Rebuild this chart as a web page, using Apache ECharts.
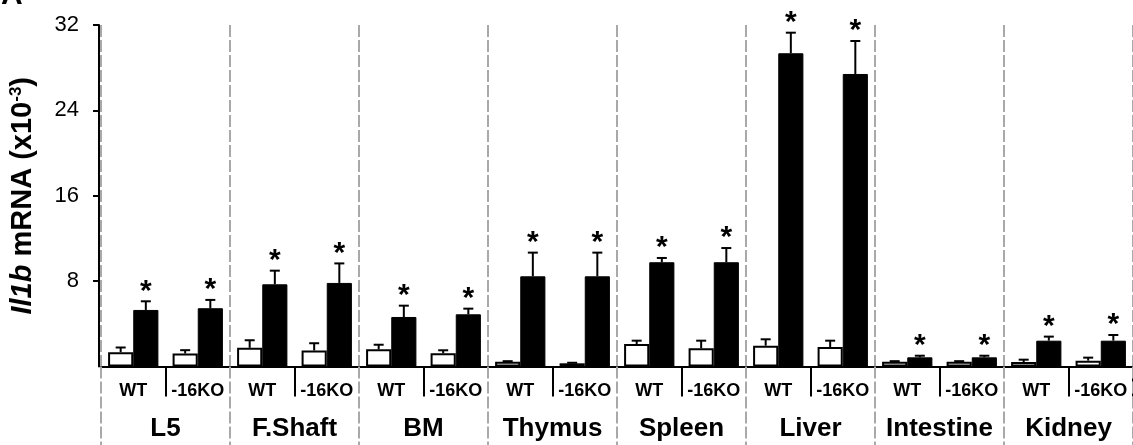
<!DOCTYPE html>
<html>
<head>
<meta charset="utf-8">
<script src="https://cdn.jsdelivr.net/npm/echarts@6/dist/echarts.min.js"></script>
<style>html,body{margin:0;padding:0;background:#fff;}#c{width:1133px;height:445px;}</style>
</head>
<body>
<div id="c"></div>
<script>
const groups = ['L5', 'F.Shaft', 'BM', 'Thymus', 'Spleen', 'Liver', 'Intestine', 'Kidney'];
const genotypes = ['WT', '-16KO'];
const categories = groups.flatMap(() => genotypes);
const yTicks = [0, 8, 16, 24, 32];

// white bars (control) and black bars (treated), per category in order
const ctrl    = [1.34, 1.22, 1.75, 1.50, 1.61, 1.24, 0.45, 0.30, 2.11, 1.70, 1.95, 1.83, 0.45, 0.45, 0.42, 0.55];
const ctrlErr = [0.44, 0.31, 0.71, 0.68, 0.43, 0.28, 0.05, 0.05, 0.31, 0.72, 0.60, 0.59, 0.05, 0.05, 0.22, 0.28];
const treat    = [5.30, 5.46, 7.70, 7.83, 4.64, 4.89, 8.45, 8.45, 9.77, 9.77, 29.35, 27.41, 0.86, 0.86, 2.42, 2.42];
const treatErr = [0.81, 0.78, 1.28, 1.83, 1.06, 0.53, 2.22, 2.22, 0.40, 1.33, 1.93, 3.09, 0.15, 0.15, 0.38, 0.53];
const treatSig = [1, 1, 1, 1, 1, 1, 1, 1, 1, 1, 1, 1, 1, 1, 1, 1];

const GAP = 0.22;
const FONT = 'Liberation Sans, Arial, sans-serif';

const errData = [];
categories.forEach((c, i) => {
  errData.push([i, ctrl[i], ctrlErr[i], 0, 0]);
  errData.push([i, treat[i], treatErr[i], 1, treatSig[i]]);
});

function renderErr(params, api) {
  const i = api.value(0), v = api.value(1), e = api.value(2), side = api.value(3), sig = api.value(4);
  const band = api.size([1, 0])[0];
  const bw = band * (1 - GAP) / 2;
  const p = api.coord([i, v]);
  const x = p[0] + (side ? bw / 2 : -bw / 2);
  const yt = api.coord([i, v + e])[1];
  const st = { stroke: '#000', lineWidth: 2 };
  const ch = [
    { type: 'line', shape: { x1: x, y1: p[1], x2: x, y2: yt }, style: st },
    { type: 'line', shape: { x1: x - 5, y1: yt, x2: x + 5, y2: yt }, style: st }
  ];
  if (sig) {
    ch.push({ type: 'text', x: x, y: yt + 5, style: { text: '*', fill: '#000', font: 'bold 30px ' + FONT, align: 'center', verticalAlign: 'bottom' } });
  }
  return { type: 'group', children: ch };
}

const chart = echarts.init(document.getElementById('c'));
chart.setOption({
  animation: false,
  backgroundColor: '#fff',
  title: { text: 'A', left: -4, top: -24, textStyle: { fontSize: 30, fontWeight: 'bold', color: '#000', fontFamily: FONT } },
  grid: { left: 99, top: 25, width: 1035, bottom: 78.5 },
  xAxis: [
    {
      type: 'category', data: categories, position: 'bottom',
      axisLine: { show: true, lineStyle: { color: '#000', width: 2 } },
      axisTick: { show: true, length: 30, interval: (idx) => idx % 2 === 1, lineStyle: { color: '#000', width: 2 } },
      axisLabel: { interval: 0, margin: 16, color: '#000', fontSize: 18, fontWeight: 'bold', fontFamily: FONT },
      splitLine: { show: false }
    },
    {
      type: 'category', data: groups, position: 'bottom',
      axisLine: { show: false },
      axisTick: { show: true, length: 80, lineStyle: { color: '#a9a9a9', width: 2, type: [12, 3] } },
      axisLabel: { interval: 0, margin: 49, color: '#000', fontSize: 26, fontWeight: 'bold', fontFamily: FONT },
      splitLine: { show: true, lineStyle: { color: '#a9a9a9', width: 2, type: [12, 3] } }
    }
  ],
  yAxis: {
    type: 'value', min: yTicks[0], max: yTicks[yTicks.length - 1], interval: yTicks[1] - yTicks[0], offset: 2,
    axisLine: { show: true, lineStyle: { color: '#000', width: 2 } },
    axisTick: { show: true, length: 6, lineStyle: { color: '#000', width: 2 } },
    axisLabel: { showMinLabel: false, margin: 20, color: '#000', fontSize: 22, fontFamily: FONT },
    splitLine: { show: false },
    name: '{i|Il1b} {b|mRNA (x10}{s|-3}{b|)}',
    nameLocation: 'middle', nameGap: 62, nameRotate: 90,
    nameTextStyle: {
      color: '#000', fontFamily: FONT, fontWeight: 'bold', fontSize: 29,
      rich: {
        i: { fontStyle: 'italic', fontWeight: 'bold', fontSize: 29, fontFamily: FONT, color: '#000' },
        b: { fontWeight: 'bold', fontSize: 29, fontFamily: FONT, color: '#000' },
        s: { fontWeight: 'bold', fontSize: 17, fontFamily: FONT, color: '#000', verticalAlign: 'top', padding: [0, 0, 12, 0] }
      }
    }
  },
  series: [
    { type: 'bar', name: 'ctrl', data: ctrl, xAxisIndex: 0, itemStyle: { color: '#fff', borderColor: '#000', borderWidth: 2 }, barGap: '0%', barCategoryGap: (GAP * 100) + '%' },
    { type: 'bar', name: 'treat', data: treat, xAxisIndex: 0, itemStyle: { color: '#000', borderColor: '#000', borderWidth: 1 }, barGap: '0%', barCategoryGap: (GAP * 100) + '%' },
    { type: 'custom', name: 'err', data: errData, xAxisIndex: 0, renderItem: renderErr, z: 5, encode: { x: 0, y: 1 } }
  ]
});
</script>
</body>
</html>
